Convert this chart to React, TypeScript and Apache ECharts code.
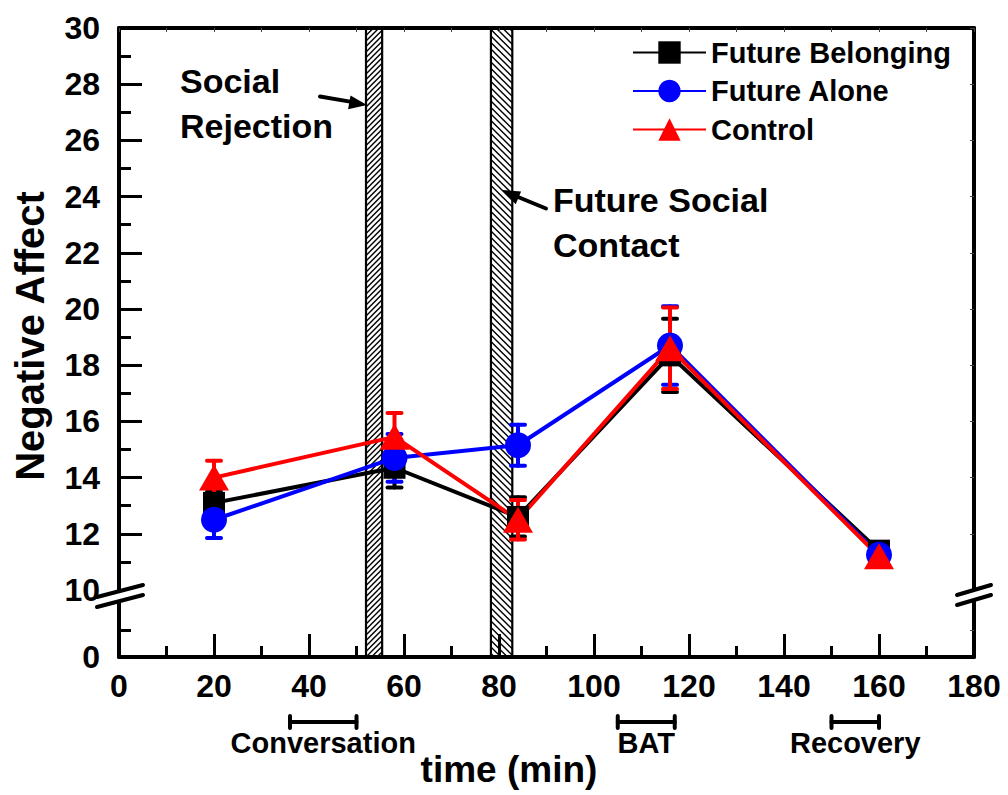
import React, { useEffect, useRef } from "react";
import * as echarts from "echarts";

// ---- data ----
const timePoints = [20, 58, 84, 116, 160];
const belongingMean = [13.1, 14.35, 12.6, 18.35, 11.4];
const belongingErr = [0.4, 0.7, 0.7, 1.3, 0.3];
const aloneMean = [12.5, 14.7, 15.15, 18.7, 11.25];
const aloneErr = [0.65, 0.85, 0.73, 1.4, 0.3];
const controlMean = [14.0, 15.45, 12.5, 18.6, 11.2];
const controlErr = [0.6, 0.85, 0.7, 1.45, 0.3];

const seriesNames = ["Future Belonging", "Future Alone", "Control"];

// x axis (time, min)
const X_MIN = 0;
const X_MAX = 180;
const X_INTERVAL = 20;
// upper (broken) y segment
const Y_UP_MIN = 10;
const Y_UP_MAX = 30;
const Y_UP_INTERVAL = 2;
// lower y segment
const Y_LOW_MIN = 0;
const Y_LOW_MAX = 12.4;
const Y_LOW_LABELS = [0];
const Y_LOW_MINOR = [5];

// manipulation periods (hatched bars): [from, to, hatchDirection]
const manipulationBars = [
  [52, 55.4, 0], // Social Rejection
  [78.3, 82.8, 1], // Future Social Contact
];

// task phases under the x axis
const phaseNames = ["Conversation", "BAT", "Recovery"];
const phaseFrom = [36, 105, 150];
const phaseTo = [50, 117, 160];

const FONT = '"Liberation Sans", Arial, sans-serif';

const zip = (xs: number[], ys: number[]) => xs.map((x, i) => [x, ys[i]]);
const zip3 = (xs: number[], ys: number[], es: number[]) =>
  xs.map((x, i) => [x, ys[i], es[i]]);

const makeErr = (color: string) => (params: any, api: any) => {
  const x = api.value(0);
  const m = api.value(1);
  const e = api.value(2);
  const top = api.coord([x, m + e]);
  const bot = api.coord([x, m - e]);
  const hw = 7;
  const st = { stroke: color, lineWidth: 4, lineCap: "round" };
  return {
    type: "group",
    children: [
      { type: "line", shape: { x1: top[0], y1: top[1], x2: bot[0], y2: bot[1] }, style: st },
      { type: "line", shape: { x1: top[0] - hw, y1: top[1], x2: top[0] + hw, y2: top[1] }, style: st },
      { type: "line", shape: { x1: bot[0] - hw, y1: bot[1], x2: bot[0] + hw, y2: bot[1] }, style: st },
    ],
  };
};

const makeHatch = (yRef: number) => (params: any, api: any) => {
  const cs = params.coordSys;
  const x0 = api.coord([api.value(0), yRef])[0];
  const x1 = api.coord([api.value(1), yRef])[0];
  const dir = api.value(2);
  const y0 = cs.y;
  const y1 = cs.y + cs.height;
  const children: any[] = [
    { type: "rect", shape: { x: x0, y: y0, width: x1 - x0, height: y1 - y0 }, style: { fill: "#fff" } },
  ];
  const hs = { stroke: "#000", lineWidth: 1.4 };
  if (dir === 0) {
    const step = 5.5;
    const cStart = Math.ceil((x0 + y0) / step) * step;
    for (let c = cStart; c <= x1 + y1; c += step) {
      const xa = Math.max(x0, c - y1);
      const xb = Math.min(x1, c - y0);
      if (xb > xa) children.push({ type: "line", shape: { x1: xa, y1: c - xa, x2: xb, y2: c - xb }, style: hs });
    }
  } else {
    const step = 6.5;
    const cStart = Math.ceil((y0 - x1) / step) * step;
    for (let c = cStart; c <= y1 - x0; c += step) {
      const xa = Math.max(x0, y0 - c);
      const xb = Math.min(x1, y1 - c);
      if (xb > xa) children.push({ type: "line", shape: { x1: xa, y1: xa + c, x2: xb, y2: xb + c }, style: hs });
    }
  }
  const bs = { stroke: "#000", lineWidth: 2.2 };
  children.push({ type: "line", shape: { x1: x0, y1: y0, x2: x0, y2: y1 }, style: bs });
  children.push({ type: "line", shape: { x1: x1, y1: y0, x2: x1, y2: y1 }, style: bs });
  return { type: "group", children };
};

const phaseRenderer = (params: any, api: any) => {
  const i = params.dataIndex;
  const p0 = api.coord([api.value(0), Y_LOW_MIN]);
  const p1 = api.coord([api.value(1), Y_LOW_MIN]);
  const y = p0[1] + 65;
  const st = { stroke: "#000", lineWidth: 4, lineCap: "round" };
  return {
    type: "group",
    children: [
      { type: "line", shape: { x1: p0[0], y1: y, x2: p1[0], y2: y }, style: st },
      { type: "line", shape: { x1: p0[0], y1: y - 6, x2: p0[0], y2: y + 6 }, style: st },
      { type: "line", shape: { x1: p1[0], y1: y - 6, x2: p1[0], y2: y + 6 }, style: st },
      {
        type: "text",
        style: {
          text: phaseNames[i],
          x: (p0[0] + p1[0]) / 2,
          y: p0[1] + 86,
          fill: "#000",
          fontSize: 29,
          fontWeight: "bold",
          fontFamily: FONT,
          align: "center",
          verticalAlign: "middle",
          textAlign: "center",
          textVerticalAlign: "middle",
        },
      },
    ],
  };
};

const labelFont = { fontSize: 32, fontWeight: "bold" as const, fontFamily: FONT, color: "#000" };
const thick = { lineStyle: { color: "#000", width: 4 } };

export default function App() {
  const ref = useRef<HTMLDivElement>(null);
  useEffect(() => {
    if (!ref.current) return;
    const chart = echarts.init(ref.current, undefined, { renderer: "svg" });
    const option: any = {
      animation: false,
      backgroundColor: "#fff",
      grid: [
        { left: 119, top: 28, width: 855, height: 562 },
        { left: 119, top: 590, width: 855, height: 67 },
      ],
      xAxis: [
        {
          gridIndex: 0,
          type: "value",
          min: X_MIN,
          max: X_MAX,
          interval: X_INTERVAL,
          position: "top",
          z: 10,
          axisLine: { onZero: false, ...thick },
          axisTick: { inside: true, length: 4, lineStyle: { width: 1, color: "#444" } },
          minorTick: { show: true, splitNumber: 2, length: 4, lineStyle: { width: 1, color: "#444" } },
          axisLabel: { show: false },
          splitLine: { show: false },
        },
        {
          gridIndex: 1,
          type: "value",
          min: X_MIN,
          max: X_MAX,
          interval: X_INTERVAL,
          position: "bottom",
          z: 10,
          axisLine: { onZero: false, ...thick },
          axisTick: { inside: true, length: 23, lineStyle: { width: 3, color: "#000" } },
          minorTick: { show: true, splitNumber: 2, length: 11, lineStyle: { width: 3, color: "#000" } },
          axisLabel: { ...labelFont, margin: 13 },
          splitLine: { show: false },
          name: "time (min)",
          nameLocation: "middle",
          nameGap: 94,
          nameTextStyle: { fontSize: 37, fontWeight: "bold", fontFamily: FONT, color: "#000", padding: [0, 75, 0, 0] },
        },
      ],
      yAxis: [
        {
          gridIndex: 0,
          type: "value",
          min: Y_UP_MIN,
          max: Y_UP_MAX,
          interval: Y_UP_INTERVAL,
          position: "left",
          z: 10,
          axisLine: { onZero: false, ...thick },
          axisTick: { inside: true, length: 23, lineStyle: { width: 3, color: "#000" } },
          minorTick: { show: true, splitNumber: 2, length: 12, lineStyle: { width: 3, color: "#000" } },
          axisLabel: { ...labelFont, margin: 19 },
          splitLine: { show: false },
        },
        {
          gridIndex: 0,
          type: "value",
          min: Y_UP_MIN,
          max: Y_UP_MAX,
          interval: Y_UP_INTERVAL,
          position: "right",
          z: 10,
          axisLine: { onZero: false, ...thick },
          axisTick: { inside: true, length: 4, lineStyle: { width: 1, color: "#444" } },
          minorTick: { show: false },
          axisLabel: { show: false },
          splitLine: { show: false },
        },
        {
          gridIndex: 1,
          type: "value",
          min: Y_LOW_MIN,
          max: Y_LOW_MAX,
          interval: 5,
          position: "left",
          z: 10,
          axisLine: { onZero: false, ...thick },
          axisTick: { inside: true, length: 12, customValues: Y_LOW_MINOR, lineStyle: { width: 3, color: "#000" } },
          axisLabel: { ...labelFont, margin: 19, customValues: Y_LOW_LABELS },
          splitLine: { show: false },
        },
        {
          gridIndex: 1,
          type: "value",
          min: Y_LOW_MIN,
          max: Y_LOW_MAX,
          interval: 5,
          position: "right",
          z: 10,
          axisLine: { onZero: false, ...thick },
          axisTick: { inside: true, length: 4, customValues: Y_LOW_MINOR, lineStyle: { width: 1, color: "#444" } },
          axisLabel: { show: false },
          splitLine: { show: false },
        },
      ],
      legend: {
        data: seriesNames,
        orient: "vertical",
        left: 627,
        top: 33,
        padding: 5,
        itemWidth: 73,
        itemHeight: 28,
        itemGap: 9.5,
        textStyle: { fontSize: 29, fontWeight: "bold", fontFamily: FONT, color: "#000", lineHeight: 28 },
      },
      series: [
        {
          type: "custom",
          xAxisIndex: 0,
          yAxisIndex: 0,
          z: 1,
          renderItem: makeHatch(Y_UP_MIN),
          data: manipulationBars,
          encode: { x: [0, 1] },
        },
        {
          type: "custom",
          xAxisIndex: 1,
          yAxisIndex: 2,
          z: 1,
          renderItem: makeHatch(Y_LOW_MIN),
          data: manipulationBars,
          encode: { x: [0, 1] },
        },
        {
          type: "custom",
          xAxisIndex: 1,
          yAxisIndex: 2,
          z: 1,
          clip: false,
          renderItem: phaseRenderer,
          data: phaseFrom.map((f, i) => [f, phaseTo[i]]),
          encode: { x: [0, 1] },
        },
        {
          type: "line",
          name: seriesNames[0],
          xAxisIndex: 0,
          yAxisIndex: 0,
          z: 3,
          data: zip(timePoints, belongingMean),
          symbol: "rect",
          symbolSize: 22,
          lineStyle: { color: "#000", width: 4 },
          itemStyle: { color: "#000" },
        },
        {
          type: "custom",
          xAxisIndex: 0,
          yAxisIndex: 0,
          z: 3,
          renderItem: makeErr("#000"),
          data: zip3(timePoints, belongingMean, belongingErr),
          encode: { x: 0, y: 1 },
        },
        {
          type: "line",
          name: seriesNames[1],
          xAxisIndex: 0,
          yAxisIndex: 0,
          z: 3,
          data: zip(timePoints, aloneMean),
          symbol: "circle",
          symbolSize: 26,
          lineStyle: { color: "#0000ff", width: 4 },
          itemStyle: { color: "#0000ff" },
        },
        {
          type: "custom",
          xAxisIndex: 0,
          yAxisIndex: 0,
          z: 3,
          renderItem: makeErr("#0000ff"),
          data: zip3(timePoints, aloneMean, aloneErr),
          encode: { x: 0, y: 1 },
        },
        {
          type: "line",
          name: seriesNames[2],
          xAxisIndex: 0,
          yAxisIndex: 0,
          z: 3,
          data: zip(timePoints, controlMean),
          symbol: "triangle",
          symbolSize: [30, 26],
          lineStyle: { color: "#ff0000", width: 4 },
          itemStyle: { color: "#ff0000" },
        },
        {
          type: "custom",
          xAxisIndex: 0,
          yAxisIndex: 0,
          z: 3,
          renderItem: makeErr("#ff0000"),
          data: zip3(timePoints, controlMean, controlErr),
          encode: { x: 0, y: 1 },
        },
      ],
      graphic: [
        {
          type: "text",
          x: 30,
          y: 336,
          rotation: Math.PI / 2,
          z: 100,
          style: {
            text: "Negative Affect",
            fill: "#000",
            font: `bold 40px ${FONT}`,
            textAlign: "center",
            textVerticalAlign: "middle",
            align: "center",
            verticalAlign: "middle",
          },
        },
        {
          type: "text",
          x: 180,
          y: 58,
          z: 100,
          style: {
            text: "Social\nRejection",
            fill: "#000",
            font: `bold 34px ${FONT}`,
            lineHeight: 45,
            textAlign: "left",
            textVerticalAlign: "top",
            align: "left",
            verticalAlign: "top",
          },
        },
        {
          type: "text",
          x: 553,
          y: 177,
          z: 100,
          style: {
            text: "Future Social\nContact",
            fill: "#000",
            font: `bold 34px ${FONT}`,
            lineHeight: 45,
            textAlign: "left",
            textVerticalAlign: "top",
            align: "left",
            verticalAlign: "top",
          },
        },
        // arrow to Social Rejection bar
        { type: "line", z: 100, shape: { x1: 320, y1: 96.5, x2: 350, y2: 101.6 }, style: { stroke: "#000", lineWidth: 4, lineCap: "round" } },
        { type: "polygon", z: 100, shape: { points: [[367, 105], [350.5, 95.5], [348.1, 109.3]] }, style: { fill: "#000" } },
        // arrow to Future Social Contact bar
        { type: "line", z: 100, shape: { x1: 546, y1: 208.5, x2: 518, y2: 197 }, style: { stroke: "#000", lineWidth: 4, lineCap: "round" } },
        { type: "polygon", z: 100, shape: { points: [[502, 190], [521.1, 191.4], [515.7, 204.3]] }, style: { fill: "#000" } },
        // axis breaks (left)
        { type: "polygon", z: 100, shape: { points: [[97, 597], [143, 585], [143, 595], [97, 607]] }, style: { fill: "#fff" } },
        { type: "line", z: 101, shape: { x1: 97, y1: 597, x2: 143, y2: 585 }, style: { stroke: "#000", lineWidth: 4, lineCap: "round" } },
        { type: "line", z: 101, shape: { x1: 97, y1: 607, x2: 143, y2: 595 }, style: { stroke: "#000", lineWidth: 4, lineCap: "round" } },
        // axis breaks (right)
        { type: "polygon", z: 100, shape: { points: [[957, 595], [991, 585], [991, 595], [957, 605]] }, style: { fill: "#fff" } },
        { type: "line", z: 101, shape: { x1: 957, y1: 595, x2: 991, y2: 585 }, style: { stroke: "#000", lineWidth: 4, lineCap: "round" } },
        { type: "line", z: 101, shape: { x1: 957, y1: 605, x2: 991, y2: 595 }, style: { stroke: "#000", lineWidth: 4, lineCap: "round" } },
      ],
    };
    chart.setOption(option);
    return () => chart.dispose();
  }, []);
  return (
    <div
      ref={ref}
      style={{ position: "absolute", left: 0, top: 0, width: 1008, height: 795, background: "#fff" }}
    />
  );
}
